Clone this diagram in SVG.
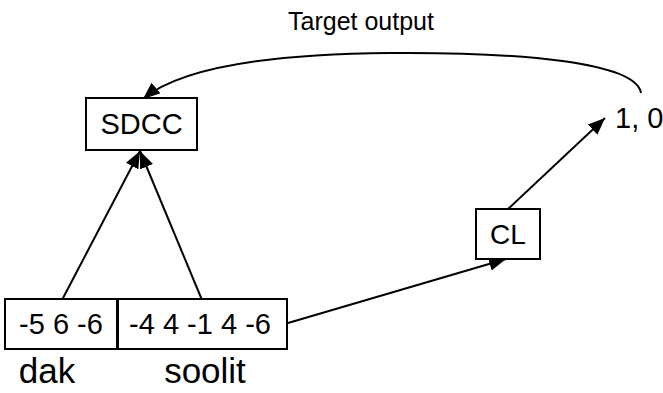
<svg xmlns="http://www.w3.org/2000/svg" width="663" height="393" viewBox="0 0 663 393">
<style>
.box{fill:#fff;stroke:#000;stroke-width:2}
.ln{fill:none;stroke:#000;stroke-width:2}
.t{font-family:"Liberation Sans",Arial,sans-serif;fill:#000}
</style>
<defs>
<marker id="ah" markerUnits="userSpaceOnUse" markerWidth="18" markerHeight="14" refX="17" refY="7" orient="auto">
<path d="M0,0 L17,7 L0,14 z" fill="#000"/>
</marker>
</defs>
<rect width="663" height="393" fill="#fff"/>
<g id="connectors">
<path class="ln" d="M62,300 L140,151" marker-end="url(#ah)"/>
<path class="ln" d="M202,300 L140,151" marker-end="url(#ah)"/>
<path class="ln" d="M288,323 L506,259" marker-end="url(#ah)"/>
<path class="ln" d="M508,209 L605,118" marker-end="url(#ah)"/>
<path class="ln" d="M641,93 C636,62 520,52 390,53 C270,54 180,68 143,99" marker-end="url(#ah)"/>
</g>
<g id="sdcc">
<rect class="box" x="86" y="98" width="111" height="52"/>
<text class="t" x="141.5" y="134" font-size="29" text-anchor="middle">SDCC</text>
</g>
<g id="cl">
<rect class="box" x="476" y="209" width="64" height="50"/>
<text class="t" x="508" y="244" font-size="28" text-anchor="middle">CL</text>
</g>
<g id="dak">
<rect class="box" x="5" y="299" width="112" height="50"/>
<text class="t" x="61" y="334" font-size="29" text-anchor="middle">-5 6 -6</text>
<text class="t" x="47" y="383" font-size="35" text-anchor="middle">dak</text>
</g>
<g id="soolit">
<rect class="box" x="118" y="299" width="169" height="50"/>
<text class="t" x="200" y="334" font-size="29" text-anchor="middle">-4 4 -1 4 -6</text>
<text class="t" x="205" y="383" font-size="35" text-anchor="middle">soolit</text>
</g>
<g id="output">
<text class="t" x="615" y="128" font-size="29">1, 0</text>
</g>
<g id="label">
<text class="t" x="361" y="30" font-size="25" text-anchor="middle">Target output</text>
</g>
</svg>
